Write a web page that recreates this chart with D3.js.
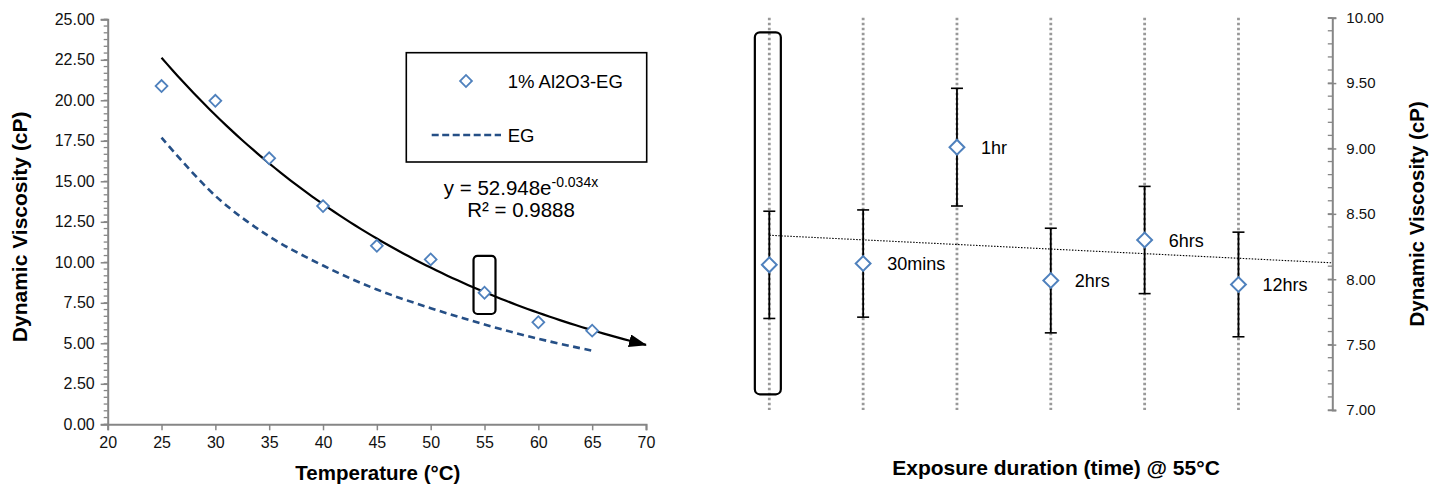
<!DOCTYPE html>
<html><head><meta charset="utf-8">
<script src="https://cdn.jsdelivr.net/npm/d3@7"></script>
<style>
html,body{margin:0;padding:0;background:#fff;}
svg{display:block;font-family:"Liberation Sans",Arial,sans-serif;}
</style></head>
<body>
<svg id="c" width="1442" height="487"></svg>
<script>
// ---- Left chart data ----
const temps = [25, 30, 35, 40, 45, 50, 55, 60, 65];
const viscAl2O3 = [20.88, 19.97, 16.42, 13.47, 11.02, 10.18, 8.12, 6.30, 5.78];
const viscEG = [17.7, 14.1, 11.6, 9.8, 8.32, 7.17, 6.16, 5.28, 4.54];
const fitA = 52.948, fitB = -0.034;   // trendline shown on chart: y = 52.948e^(-0.034x)
const fitRange = [25, 70];
const leftXTicks = [20, 25, 30, 35, 40, 45, 50, 55, 60, 65, 70];
const leftYTicks = [0, 2.5, 5, 7.5, 10, 12.5, 15, 17.5, 20, 22.5, 25];
const highlightTemp = 55;

// ---- Right chart data ----
const durations = ["", "30mins", "1hr", "2hrs", "6hrs", "12hrs"];
const durIndex = [1, 2, 3, 4, 5, 6];
const viscTime = [8.11, 8.12, 9.01, 7.99, 8.30, 7.96];
const errTime = [0.41, 0.41, 0.45, 0.40, 0.41, 0.40];
const rightYTicks = [7.0, 7.5, 8.0, 8.5, 9.0, 9.5, 10.0];

const svg = d3.select("#c");
const blue = "#4F81BD", egBlue = "#254F86", axisGray = "#868686";

// ================= LEFT CHART =================
const xL = d3.scaleLinear().domain([20, 70]).range([107.7, 646]);
const yL = d3.scaleLinear().domain([0, 25]).range([424.3, 19.3]);
const gL = svg.append("g");

// minor y ticks
const minorL = d3.range(0, 25.0001, 2.5 / 6);
gL.selectAll(".mnl").data(minorL).enter().append("line")
  .attr("x1", xL(20) - 4).attr("x2", xL(20))
  .attr("y1", d => yL(d)).attr("y2", d => yL(d))
  .attr("stroke", axisGray).attr("stroke-width", 1.3);
// y axis
const yAxisL = d3.axisLeft(yL).tickValues(leftYTicks).tickFormat(d3.format(".2f")).tickSize(7).tickPadding(6);
const gyl = gL.append("g").attr("transform", `translate(${xL(20)},0)`).call(yAxisL);
gyl.select(".domain").attr("stroke", axisGray).attr("stroke-width", 2);
gyl.selectAll(".tick line").attr("stroke", axisGray).attr("stroke-width", 1.5);
gyl.selectAll(".tick text").attr("font-size", 16).attr("fill", "#111").attr("font-family", "Liberation Sans, Arial");
// x axis
const xAxisL = d3.axisBottom(xL).tickValues(leftXTicks).tickSize(6).tickPadding(6);
const gxl = gL.append("g").attr("transform", `translate(0,${yL(0)})`).call(xAxisL);
gxl.select(".domain").attr("stroke", axisGray).attr("stroke-width", 2);
gxl.selectAll(".tick line").attr("stroke", axisGray).attr("stroke-width", 1.5);
gxl.selectAll(".tick text").attr("font-size", 16).attr("fill", "#111").attr("font-family", "Liberation Sans, Arial");

// axis titles
gL.append("text").attr("transform", `translate(27,${(yL(0) + yL(25)) / 2 + 5}) rotate(-90)`)
  .attr("text-anchor", "middle").attr("font-size", 21).attr("font-weight", "bold").text("Dynamic Viscosity (cP)");
gL.append("text").attr("x", (xL(20) + xL(70)) / 2 + 1).attr("y", 480)
  .attr("text-anchor", "middle").attr("font-size", 20.5).attr("font-weight", "bold").text("Temperature (°C)");

// EG dashed curve
const lineEG = d3.line().x((d, i) => xL(temps[i])).y(d => yL(d)).curve(d3.curveCatmullRom.alpha(0.5));
gL.append("path").attr("d", lineEG(viscEG)).attr("fill", "none")
  .attr("stroke", egBlue).attr("stroke-width", 2.6).attr("stroke-dasharray", "7,4.5");

// fit curve with arrow
svg.append("defs").append("marker").attr("id", "arr")
  .attr("viewBox", "0 0 18 13").attr("refX", 17).attr("refY", 6.5)
  .attr("markerWidth", 18).attr("markerHeight", 13).attr("markerUnits", "userSpaceOnUse").attr("orient", "auto")
  .append("path").attr("d", "M0,0 L18,6.5 L0,13 Z").attr("fill", "#000");
const fitX = d3.range(fitRange[0], fitRange[1] + 0.001, 0.5);
const lineFit = d3.line().x(d => xL(d)).y(d => yL(fitA * Math.exp(fitB * d)));
gL.append("path").attr("d", lineFit(fitX)).attr("fill", "none")
  .attr("stroke", "#000").attr("stroke-width", 2.2).attr("marker-end", "url(#arr)");

// diamonds
const diamond = (s) => d3.symbol(d3.symbolSquare, s)();
gL.selectAll(".pt").data(viscAl2O3).enter().append("path")
  .attr("d", diamond(70))
  .attr("transform", (d, i) => `translate(${xL(temps[i])},${yL(d)}) rotate(45)`)
  .attr("fill", "#fff").attr("stroke", blue).attr("stroke-width", 1.8);

// highlight rect at 55°C
gL.append("rect").attr("x", xL(highlightTemp - 1.02)).attr("y", yL(10.4))
  .attr("width", xL(highlightTemp + 1.02) - xL(highlightTemp - 1.02)).attr("height", yL(6.81) - yL(10.4))
  .attr("rx", 4).attr("fill", "none").attr("stroke", "#000").attr("stroke-width", 2.2);

// legend
const lg = gL.append("g");
lg.append("rect").attr("x", 406.3).attr("y", 52.7).attr("width", 240.4).attr("height", 109.3)
  .attr("fill", "#fff").attr("stroke", "#000").attr("stroke-width", 1.6);
lg.append("path").attr("d", diamond(70)).attr("transform", "translate(466,81) rotate(45)")
  .attr("fill", "#fff").attr("stroke", blue).attr("stroke-width", 1.8);
lg.append("text").attr("x", 507.7).attr("y", 87.5).attr("font-size", 18.5).text("1% Al2O3-EG");
lg.append("line").attr("x1", 431.7).attr("x2", 501).attr("y1", 135).attr("y2", 135)
  .attr("stroke", egBlue).attr("stroke-width", 2.6).attr("stroke-dasharray", "7,3.5");
lg.append("text").attr("x", 507.7).attr("y", 141.5).attr("font-size", 18.5).text("EG");

// equation
const eq = gL.append("text").attr("x", 521).attr("y", 195).attr("text-anchor", "middle").attr("font-size", 20.5);
eq.append("tspan").text("y = " + fitA.toFixed(3) + "e");
eq.append("tspan").attr("dy", -8).attr("font-size", 14).text(fitB.toFixed(3) + "x");
gL.append("text").attr("x", 521).attr("y", 217).attr("text-anchor", "middle").attr("font-size", 20.5).text("R² = 0.9888");

// ================= RIGHT CHART =================
const xR = d3.scaleLinear().domain([1, 7]).range([769.3, 1332.3]);
const yR = d3.scaleLinear().domain([7, 10]).range([410, 17.7]);
const gR = svg.append("g");

// vertical dotted gray lines
gR.selectAll(".vl").data(durIndex).enter().append("line")
  .attr("x1", d => xR(d)).attr("x2", d => xR(d)).attr("y1", yR(10)).attr("y2", yR(7))
  .attr("stroke", "#999").attr("stroke-width", 2.8).attr("stroke-dasharray", "2.5,2.5");

// linear trendline from data
const mx = d3.mean(durIndex), my = d3.mean(viscTime);
const slope = d3.sum(durIndex, (x, i) => (x - mx) * (viscTime[i] - my)) / d3.sum(durIndex, x => (x - mx) ** 2);
const icpt = my - slope * mx;
gR.append("line").attr("x1", xR(1)).attr("x2", xR(7))
  .attr("y1", yR(icpt + slope * 1)).attr("y2", yR(icpt + slope * 7))
  .attr("stroke", "#000").attr("stroke-width", 1.1).attr("stroke-dasharray", "1.5,1.5");

// error bars
const eb = gR.selectAll(".eb").data(viscTime).enter().append("g");
eb.append("line").attr("x1", (d, i) => xR(durIndex[i])).attr("x2", (d, i) => xR(durIndex[i]))
  .attr("y1", (d, i) => yR(d + errTime[i])).attr("y2", (d, i) => yR(d - errTime[i]))
  .attr("stroke", "#000").attr("stroke-width", 1.8);
eb.append("line").attr("x1", (d, i) => xR(durIndex[i]) - 6).attr("x2", (d, i) => xR(durIndex[i]) + 6)
  .attr("y1", (d, i) => yR(d + errTime[i])).attr("y2", (d, i) => yR(d + errTime[i]))
  .attr("stroke", "#000").attr("stroke-width", 1.6);
eb.append("line").attr("x1", (d, i) => xR(durIndex[i]) - 6).attr("x2", (d, i) => xR(durIndex[i]) + 6)
  .attr("y1", (d, i) => yR(d - errTime[i])).attr("y2", (d, i) => yR(d - errTime[i]))
  .attr("stroke", "#000").attr("stroke-width", 1.6);

// points
gR.selectAll(".rp").data(viscTime).enter().append("path")
  .attr("d", diamond(110))
  .attr("transform", (d, i) => `translate(${xR(durIndex[i])},${yR(d)}) rotate(45)`)
  .attr("fill", "#fff").attr("stroke", blue).attr("stroke-width", 2);
// labels
gR.selectAll(".rl").data(viscTime).enter().append("text")
  .attr("x", (d, i) => xR(durIndex[i]) + 24).attr("y", d => yR(d) + 6.5)
  .attr("font-size", 18).text((d, i) => durations[i]);

// right axis minor ticks
const minorR = d3.range(7, 10.0001, 0.1);
gR.selectAll(".mnr").data(minorR).enter().append("line")
  .attr("x1", xR(7) - 4.5).attr("x2", xR(7))
  .attr("y1", d => yR(d)).attr("y2", d => yR(d))
  .attr("stroke", axisGray).attr("stroke-width", 1.3);
const yAxisR = d3.axisRight(yR).tickValues(rightYTicks).tickFormat(d3.format(".2f")).tickSize(4).tickPadding(10);
const gyr = gR.append("g").attr("transform", `translate(${xR(7)},0)`).call(yAxisR);
gyr.select(".domain").attr("stroke", axisGray).attr("stroke-width", 2);
gyr.selectAll(".tick line").attr("x1", -4.5).attr("stroke", axisGray).attr("stroke-width", 1.5);
gyr.selectAll(".tick text").attr("font-size", 15).attr("fill", "#111").attr("font-family", "Liberation Sans, Arial");
gR.append("text").attr("transform", `translate(1424,${(yR(7) + yR(10)) / 2}) rotate(-90)`)
  .attr("text-anchor", "middle").attr("font-size", 20.5).attr("font-weight", "bold").text("Dynamic Viscosity (cP)");
gR.append("text").attr("x", 1056).attr("y", 475).attr("text-anchor", "middle")
  .attr("font-size", 21).attr("font-weight", "bold").text("Exposure duration (time) @ 55°C");

// highlight rect around first category
gR.append("rect").attr("x", xR(0.846)).attr("y", yR(9.888))
  .attr("width", xR(1.123) - xR(0.846)).attr("height", yR(7.12) - yR(9.888))
  .attr("rx", 5).attr("fill", "none").attr("stroke", "#000").attr("stroke-width", 2.2);
</script>
</body></html>
